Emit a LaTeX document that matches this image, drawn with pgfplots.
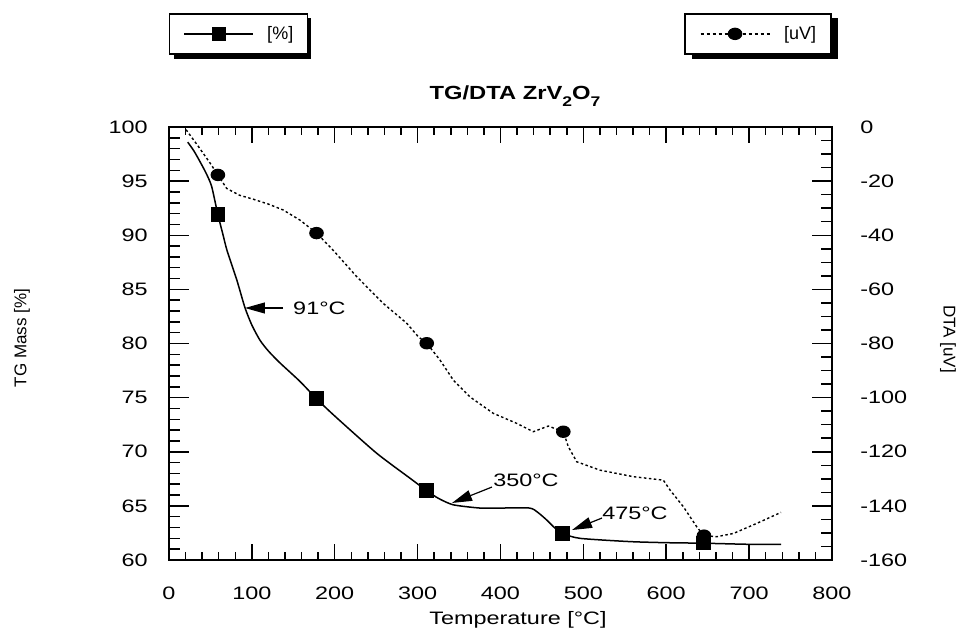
\documentclass[border=0pt]{standalone}
\usepackage{pgfplots}
\pgfplotsset{compat=1.18}
\usepackage{fontspec}
\setmainfont{Liberation Sans}
\usetikzlibrary{arrows.meta}

\newcommand{\lblfont}{\fontsize{18}{21}\selectfont}

\pgfplotsset{
  base/.style={
    scale only axis, width=663pt, height=433pt,
    at={(0pt,0pt)}, anchor=south west,
    xmin=0, xmax=800,
    axis line style={line width=1.6pt},
    tick style={line width=1.5pt, black},
    tick align=inside,
    /pgf/number format/assume math mode=true,
    tick label style={font=\lblfont, inner sep=0pt},
    legend style={draw=black, line width=1.5pt, fill=white,
      font=\lblfont, inner ysep=0pt, minimum height=40pt,
      nodes={inner sep=0pt, minimum height=0pt, minimum width=0pt}},
  }
}

\begin{document}
\begin{tikzpicture}

% legend shadows (pixel frame, top left = (0,0))
\begin{scope}[shift={(-169pt,560pt)}, x=1pt, y=-1pt]
\fill[black] (174,18) rectangle (311,59);
\fill[black] (692,18) rectangle (838,59);
\end{scope}

% TG axis (left)
\begin{axis}[base,
  ymin=60, ymax=100,
  ytick={60,65,...,100}, minor y tick num=4,
  ytick pos=left, xtick=\empty,
  major tick length=20pt, minor tick length=11pt,
  yticklabel style={anchor=east, xshift=-21pt, xscale=1.3},
  legend style={at={(0,1.263)}, anchor=north west, inner xsep=14pt, column sep=13pt}]
\addplot[black, line width=1.5pt, smooth, tension=0.4,
  mark=square*, mark size=6.5pt, mark indices={6,16,20,29,33},
  legend image code/.code={
    \draw[mark indices={2}] plot coordinates {(0pt,0pt) (34.5pt,0pt) (69pt,0pt)};}]
  coordinates {
  (22.6,98.6) (30,97.8) (37.4,96.8) (45,95.7) (51.5,94.5) (59,91.9)
  (65,90.1) (70,88.6) (81.7,85.9) (91.7,83.3) (100,81.7) (109.8,80.3)
  (120,79.3) (134,78.2) (158,76.5) (178,74.9) (200,73.3) (250,69.9)
  (290,67.6) (311,66.4) (325,65.7) (343,65.1) (375,64.8) (400,64.8)
  (435,64.8) (445,64.4) (455.7,63.7) (465,63.0) (475,62.45) (496,62.0)
  (556,61.7) (600,61.6) (645,61.55) (700,61.45) (738.5,61.45)
};
\addlegendentry{[\%]}

\draw[line width=1.2pt, -{Triangle[length=20pt,width=11pt]}]
  (axis cs:137.6,83.28) -- (axis cs:91.7,83.28);
\node[anchor=west, font=\lblfont, inner sep=0pt, xscale=1.3] at (axis cs:149.6,83.28) {91°C};
\draw[line width=1.2pt, -{Triangle[length=20pt,width=11pt]}]
  (axis cs:389.7,66.74) -- (axis cs:341.5,65.27);
\node[anchor=west, font=\lblfont, inner sep=0pt, xscale=1.3] at (axis cs:391,67.39) {350°C};
\draw[line width=1.2pt, -{Triangle[length=20pt,width=11pt]}]
  (axis cs:522.5,63.88) -- (axis cs:486.3,62.77);
\node[anchor=west, font=\lblfont, inner sep=0pt, xscale=1.3] at (axis cs:522.5,64.34) {475°C};
\end{axis}

% temperature ticks
\begin{axis}[base,
  ymin=0, ymax=1, ytick=\empty,
  xtick={0,100,...,800}, minor x tick num=4, xtick pos=both,
  major tick length=16pt, minor tick length=8pt,
  xticklabel style={anchor=north, yshift=-27pt, xscale=1.3}]
\end{axis}

% DTA axis (right)
\begin{axis}[base,
  ymin=-160, ymax=0,
  ytick={-160,-140,...,0}, minor y tick num=3,
  ytick pos=right, xtick=\empty,
  major tick length=20pt, minor tick length=11pt,
  yticklabel style={anchor=west, xshift=28pt, xscale=1.3},
  legend style={at={(1,1.263)}, anchor=north east, inner xsep=15pt, column sep=14pt}]
\addplot[black, line width=1.4pt, dash pattern=on 2.5pt off 2.5pt,
  mark=*, mark size=5.5pt, mark options={xscale=1.2, solid},
  mark indices={4,11,17,25,34},
  legend image code/.code={
    \draw[mark indices={2}, dash pattern=on 3pt off 3pt] plot coordinates {(0pt,0pt) (34.5pt,0pt) (69pt,0pt)};}]
  coordinates {
  (20.6,-1) (35,-7) (49.5,-13.3) (59,-17.7) (69.6,-22.7) (85,-25.2)
  (101.8,-26.7) (120,-28.5) (138,-30.7) (158,-34.4) (178,-39.2) (198,-45.5)
  (226.5,-55.3) (258.6,-65.2) (286.8,-72.5) (300.8,-77.5) (311,-79.9)
  (327,-86.1) (343,-93.5) (363,-99.7) (391.3,-105.8) (419.5,-109.5)
  (439.6,-112.6) (457.7,-110.5) (475.8,-112.6) (481.8,-118.1) (492,-123.7)
  (520,-126.8) (560,-129.2) (596.5,-130.5) (604.5,-134.1) (620.6,-140.3)
  (636.7,-147.7) (645.5,-151) (660.7,-151.4) (681,-150.2) (709,-146.5)
  (738.5,-142.4)
};
\addlegendentry{[uV]}
\end{axis}

\begin{scope}[shift={(-169pt,560pt)}, x=1pt, y=-1pt]
\node[font=\fontsize{19}{22}\selectfont\bfseries, xscale=1.25] at (515,96)
  {TG/DTA ZrV\raisebox{-0.4em}{\fontsize{14}{16}\selectfont 2}O\raisebox{-0.4em}{\fontsize{14}{16}\selectfont 7}};
\node[font=\lblfont, xscale=1.3] at (518,620) {Temperature [°C]};
\node[font=\fontsize{17}{20}\selectfont, rotate=90] at (22,338) {TG Mass [\%]};
\node[font=\fontsize{17}{20}\selectfont, rotate=-90] at (948,339) {DTA [uV]};
\end{scope}

\pgfresetboundingbox
\path[use as bounding box] (-169pt,-73pt) rectangle (795pt,560pt);
\end{tikzpicture}
\end{document}
